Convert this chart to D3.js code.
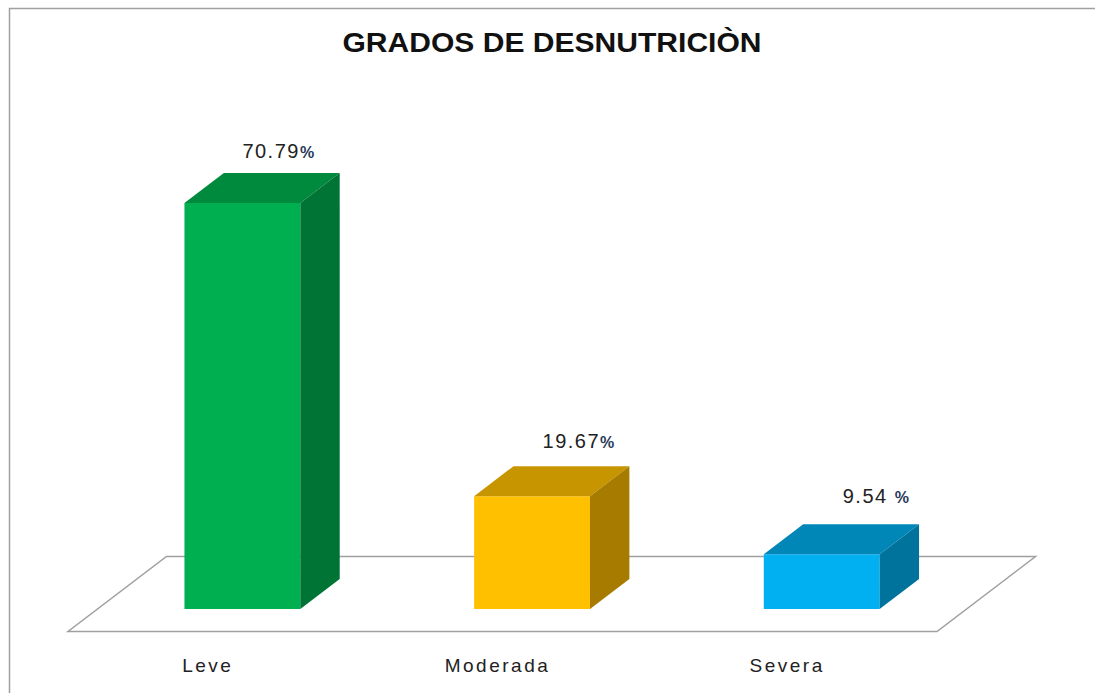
<!DOCTYPE html>
<meta charset="utf-8">
<script src="https://d3js.org/d3.v7.min.js"></script>
<style>
  body { margin: 0; background: #fff; }
  text { font-family: "Liberation Sans", Arial, sans-serif; }
</style>
<div id="chart"></div>
<script>
// data
var categories = ["Leve", "Moderada", "Severa"];
var values = [70.79, 19.67, 9.54];
var valueLabels = ["70.79", "19.67", "9.54 "];
var frontColors = ["#00b050", "#ffc000", "#00b0f0"];
var topColors = ["#008a3e", "#c79500", "#0087b8"];
var sideColors = ["#007434", "#a67b00", "#00739c"];

var width = 1095, height = 693;

var svg = d3.select("#chart").append("svg")
    .attr("width", width)
    .attr("height", height);

// chart border
svg.append("rect")
    .attr("x", 9.5).attr("y", 8.5)
    .attr("width", 1100).attr("height", 700)
    .attr("fill", "none")
    .attr("stroke", "#a0a0a0")
    .attr("stroke-width", 1.5);

// title
svg.append("text")
    .attr("x", 552).attr("y", 52)
    .attr("text-anchor", "middle")
    .style("font-size", "27px")
    .style("font-weight", "bold")
    .attr("textLength", 419)
    .attr("lengthAdjust", "spacingAndGlyphs")
    .attr("fill", "#111")
    .text("GRADOS DE DESNUTRICIÒN");

// 3d projection: depth z from 0 (front) to 1 (back)
var depthX = 98.5, depthY = -75;
function px(x, z) { return x + z * depthX; }
function py(y, z) { return y + z * depthY; }

var x = d3.scaleBand()
    .domain(categories)
    .range([68, 937])
    .paddingInner(0.6)
    .paddingOuter(0.3);

var y = d3.scaleLinear()
    .domain([0, 80])
    .range([631.5, 631.5 - 80 * 5.735]);

// floor
var x0 = x.range()[0], x1 = x.range()[1], yf = y(0);
svg.append("path")
    .attr("d", "M" + px(x0, 0) + "," + py(yf, 0) +
               "L" + px(x1, 0) + "," + py(yf, 0) +
               "L" + px(x1, 1) + "," + py(yf, 1) +
               "L" + px(x0, 1) + "," + py(yf, 1) + "Z")
    .attr("fill", "none")
    .attr("stroke", "#a0a0a0")
    .attr("stroke-width", 1.5);

var zF = 0.3, zB = 0.7;
var bars = svg.selectAll(".bar")
    .data(categories)
    .enter().append("g")
    .attr("class", "bar");

function poly(pts) {
  return "M" + pts.map(function(p) { return p[0] + "," + p[1]; }).join("L") + "Z";
}

bars.each(function(c, i) {
  var g = d3.select(this);
  var l = x(c), r = x(c) + x.bandwidth();
  var b = y(0), t = y(values[i]);
  // front face
  g.append("path")
    .attr("d", poly([[px(l, zF), py(b, zF)], [px(r, zF), py(b, zF)], [px(r, zF), py(t, zF)], [px(l, zF), py(t, zF)]]))
    .attr("fill", frontColors[i]);
  // top face
  g.append("path")
    .attr("d", poly([[px(l, zF), py(t, zF)], [px(r, zF), py(t, zF)], [px(r, zB), py(t, zB)], [px(l, zB), py(t, zB)]]))
    .attr("fill", topColors[i]);
  // side face
  g.append("path")
    .attr("d", poly([[px(r, zF), py(b, zF)], [px(r, zB), py(b, zB)], [px(r, zB), py(t, zB)], [px(r, zF), py(t, zF)]]))
    .attr("fill", sideColors[i]);

  // value label
  var lbl = g.append("text")
    .attr("x", px(l + x.bandwidth() / 2, zF) + i * 10.5)
    .attr("y", py(t, zB) - 15 - i * 3)
    .style("font-size", "20px")
    .style("letter-spacing", "1.5px")
    .attr("fill", "#222");
  lbl.append("tspan").text(valueLabels[i]);
  lbl.append("tspan")
    .style("font-size", "16px")
    .style("font-weight", "bold")
    .style("letter-spacing", "0px")
    .attr("fill", "#2a3a5a")
    .text("%");

  // category label
  g.append("text")
    .attr("x", l + x.bandwidth() / 2 - 5)
    .attr("y", 672)
    .attr("text-anchor", "middle")
    .style("font-size", "19px")
    .style("letter-spacing", "2.5px")
    .attr("fill", "#222")
    .text(c);
});
</script>
